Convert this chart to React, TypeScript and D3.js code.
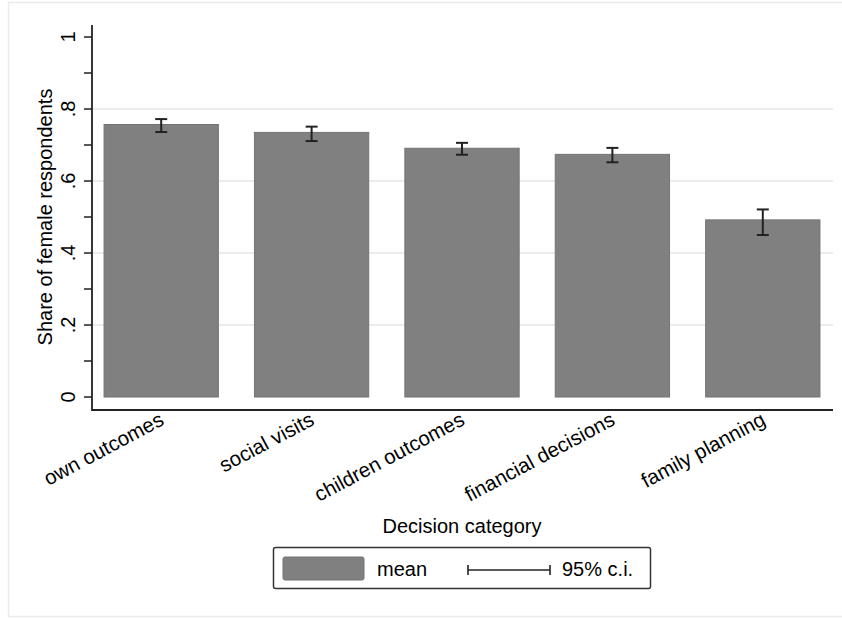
import React from "react";
import * as d3 from "d3";

const categories = ["own outcomes", "social visits", "children outcomes", "financial decisions", "family planning"];
const means = [0.757, 0.735, 0.691, 0.674, 0.492];
const ciLow = [0.736, 0.711, 0.673, 0.652, 0.45];
const ciHigh = [0.772, 0.751, 0.706, 0.692, 0.521];
const yTicks = [0, 0.2, 0.4, 0.6, 0.8, 1];
const yMinorTicks = [0.1, 0.3, 0.5, 0.7, 0.9];
const yTickLabels = ["0", ".2", ".4", ".6", ".8", "1"];

const W = 842;
const H = 618;
const FONT = "'Liberation Sans', Arial, Helvetica, sans-serif";

export default function App() {
  const x = d3.scaleBand<string>().domain(categories).range([86, 838]).paddingInner(0.24).paddingOuter(0.12);
  const y = d3.scaleLinear().domain([0, 1]).range([397, 37]);
  const axisX = 92;
  const axisY = 410;
  const plotRight = 833;
  const bw = x.bandwidth();

  return (
    <svg width={W} height={H} style={{ position: "absolute", left: 0, top: 0, background: "#fff" }} fontFamily={FONT}>
      <rect x={8.5} y={2.5} width={840} height={614} fill="#fff" stroke="#ebebeb" strokeWidth={1.5} />
      {/* gridlines */}
      {yTicks.slice(1, 5).map((t) => (
        <line key={"g" + t} x1={axisX} x2={plotRight} y1={y(t)} y2={y(t)} stroke="#e6e6e6" strokeWidth={1.5} />
      ))}
      {/* bars */}
      {categories.map((c, i) => (
        <rect
          key={c}
          x={x(c)!}
          y={y(means[i])}
          width={bw}
          height={y(0) - y(means[i])}
          fill="#808080"
          stroke="#737373"
          strokeWidth={1}
        />
      ))}
      {/* error bars */}
      {categories.map((c, i) => {
        const cx = x(c)! + bw / 2;
        return (
          <g key={"e" + c} stroke="#222" strokeWidth={2}>
            <line x1={cx} x2={cx} y1={y(ciLow[i])} y2={y(ciHigh[i])} />
            <line x1={cx - 6} x2={cx + 6} y1={y(ciLow[i])} y2={y(ciLow[i])} />
            <line x1={cx - 6} x2={cx + 6} y1={y(ciHigh[i])} y2={y(ciHigh[i])} />
          </g>
        );
      })}
      {/* axes */}
      <line x1={axisX} x2={axisX} y1={25} y2={axisY + 1} stroke="#222" strokeWidth={1.8} />
      <line x1={axisX} x2={plotRight} y1={axisY} y2={axisY} stroke="#222" strokeWidth={1.8} />
      {yTicks.map((t) => (
        <line key={"t" + t} x1={axisX - 8} x2={axisX} y1={y(t)} y2={y(t)} stroke="#222" strokeWidth={1.5} />
      ))}
      {yMinorTicks.map((t) => (
        <line key={"m" + t} x1={axisX - 8} x2={axisX} y1={y(t)} y2={y(t)} stroke="#222" strokeWidth={1.5} />
      ))}
      {yTicks.map((t, i) => (
        <text key={"l" + t} transform={`translate(75,${y(t)}) rotate(-90)`} textAnchor="middle" fontSize={20} fill="#000">
          {yTickLabels[i]}
        </text>
      ))}
      {categories.map((c) => (
        <text
          key={"xl" + c}
          transform={`translate(${x(c)! + bw / 2 + 4},${424}) rotate(-28)`}
          textAnchor="end"
          fontSize={20.5}
          fill="#000"
        >
          {c}
        </text>
      ))}
      <text transform={`translate(52,${y(0.5)}) rotate(-90)`} textAnchor="middle" fontSize={20} fill="#000">
        Share of female respondents
      </text>
      <text x={462} y={533} textAnchor="middle" fontSize={20} fill="#000">
        Decision category
      </text>
      {/* legend */}
      <rect x={273.5} y={547.5} width={377} height={41} rx={2} fill="#fff" stroke="#333" strokeWidth={1.5} />
      <rect x={283} y={557} width={81} height={23} rx={2} fill="#808080" stroke="#737373" strokeWidth={1} />
      <text x={377} y={576} fontSize={20} fill="#000">mean</text>
      <g stroke="#222" strokeWidth={1.6}>
        <line x1={468} x2={550} y1={570} y2={570} />
        <line x1={468} x2={468} y1={565} y2={575} />
        <line x1={550} x2={550} y1={565} y2={575} />
      </g>
      <text x={562} y={576} fontSize={20} fill="#000">95% c.i.</text>
    </svg>
  );
}
